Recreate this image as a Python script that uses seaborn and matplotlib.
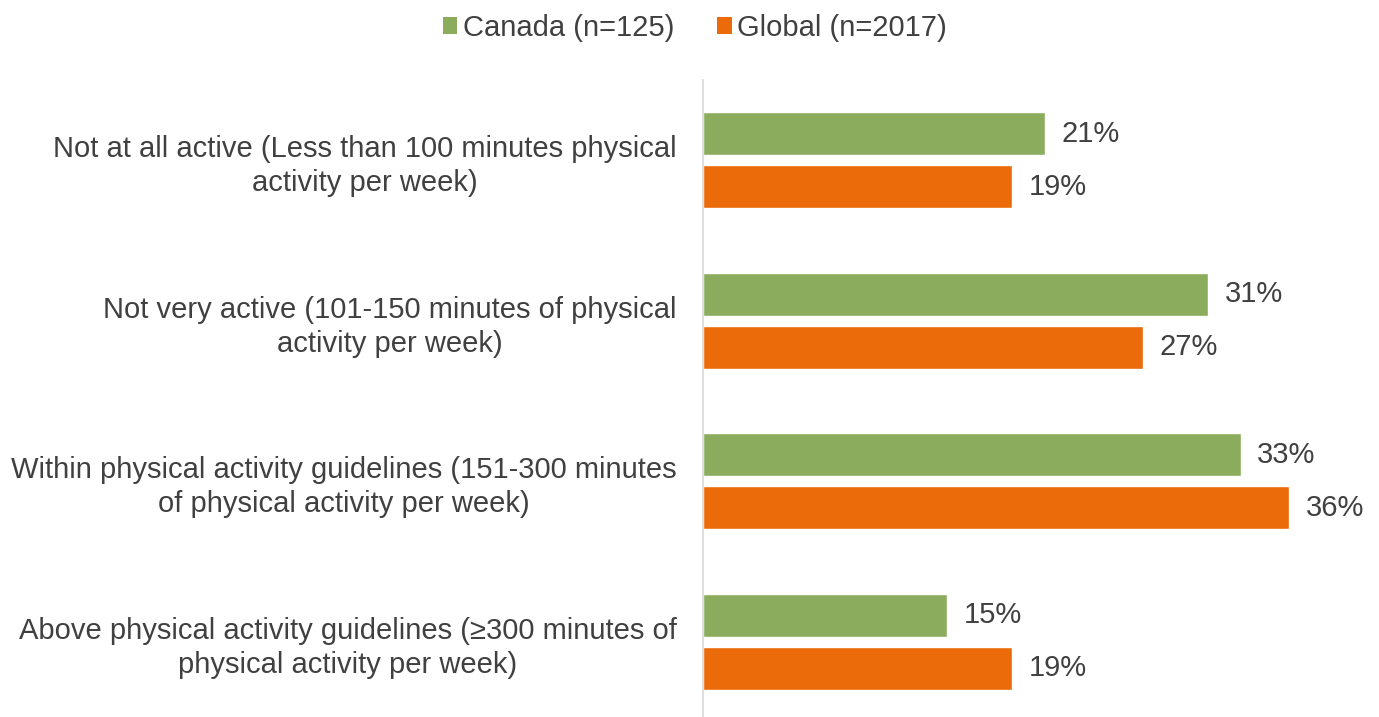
import matplotlib
matplotlib.use("Agg")
import matplotlib.pyplot as plt
import seaborn as sns
import pandas as pd
from matplotlib.patches import Patch

categories = [
    "Not at all active (Less than 100 minutes physical\nactivity per week)",
    "Not very active (101-150 minutes of physical\nactivity per week)",
    "Within physical activity guidelines (151-300 minutes\nof physical activity per week)",
    "Above physical activity guidelines (\u2265300 minutes of\nphysical activity per week)",
]
series = ["Canada (n=125)", "Global (n=2017)"]
canada = [21, 31, 33, 15]
global_ = [19, 27, 36, 19]
colors = ["#8BAC5C", "#EB6A0A"]

df = pd.DataFrame({
    "category": categories * 2,
    "series": [series[0]] * 4 + [series[1]] * 4,
    "value": canada + global_,
})

sns.set_theme(style="white")
plt.rcParams["font.family"] = ["Liberation Sans", "DejaVu Sans"]
text_color = "#404040"
fs = 21

fig = plt.figure(figsize=(13.79, 7.17), dpi=100)
ax = fig.add_axes([703 / 1379, -5 / 717, 1 - 703 / 1379, 642 / 717])

sns.barplot(
    data=df, y="category", x="value", hue="series", order=categories,
    hue_order=series, palette=colors, orient="h", width=0.66, gap=0.19,
    saturation=1, ax=ax, legend=False,
)

for container in ax.containers:
    ax.bar_label(container, labels=[f"{v:.0f}%" for v in container.datavalues],
                 padding=12, fontsize=fs, color=text_color)

ax.set_xlim(0, 41.5)
ax.set_xlabel("")
ax.set_ylabel("")
ax.set_xticks([])
ax.tick_params(axis="y", length=0, pad=19, labelsize=fs, labelcolor=text_color)
for lbl in ax.get_yticklabels():
    lbl.set_multialignment("center")
    lbl.set_linespacing(1.28)
for s in ["top", "right", "bottom"]:
    ax.spines[s].set_visible(False)
ax.spines["left"].set_color("#D9D9D9")
ax.spines["left"].set_linewidth(1.2)

handles = [Patch(facecolor=c, edgecolor="none") for c in colors]
fig.legend(handles, series, loc="center", bbox_to_anchor=(695 / 1379, 1 - 28 / 717),
           ncol=2, frameon=False, fontsize=fs, handlelength=0.5, handleheight=0.5,
           handletextpad=0.2, columnspacing=1.45, labelcolor=text_color)

fig.savefig("out.png", dpi=100)
